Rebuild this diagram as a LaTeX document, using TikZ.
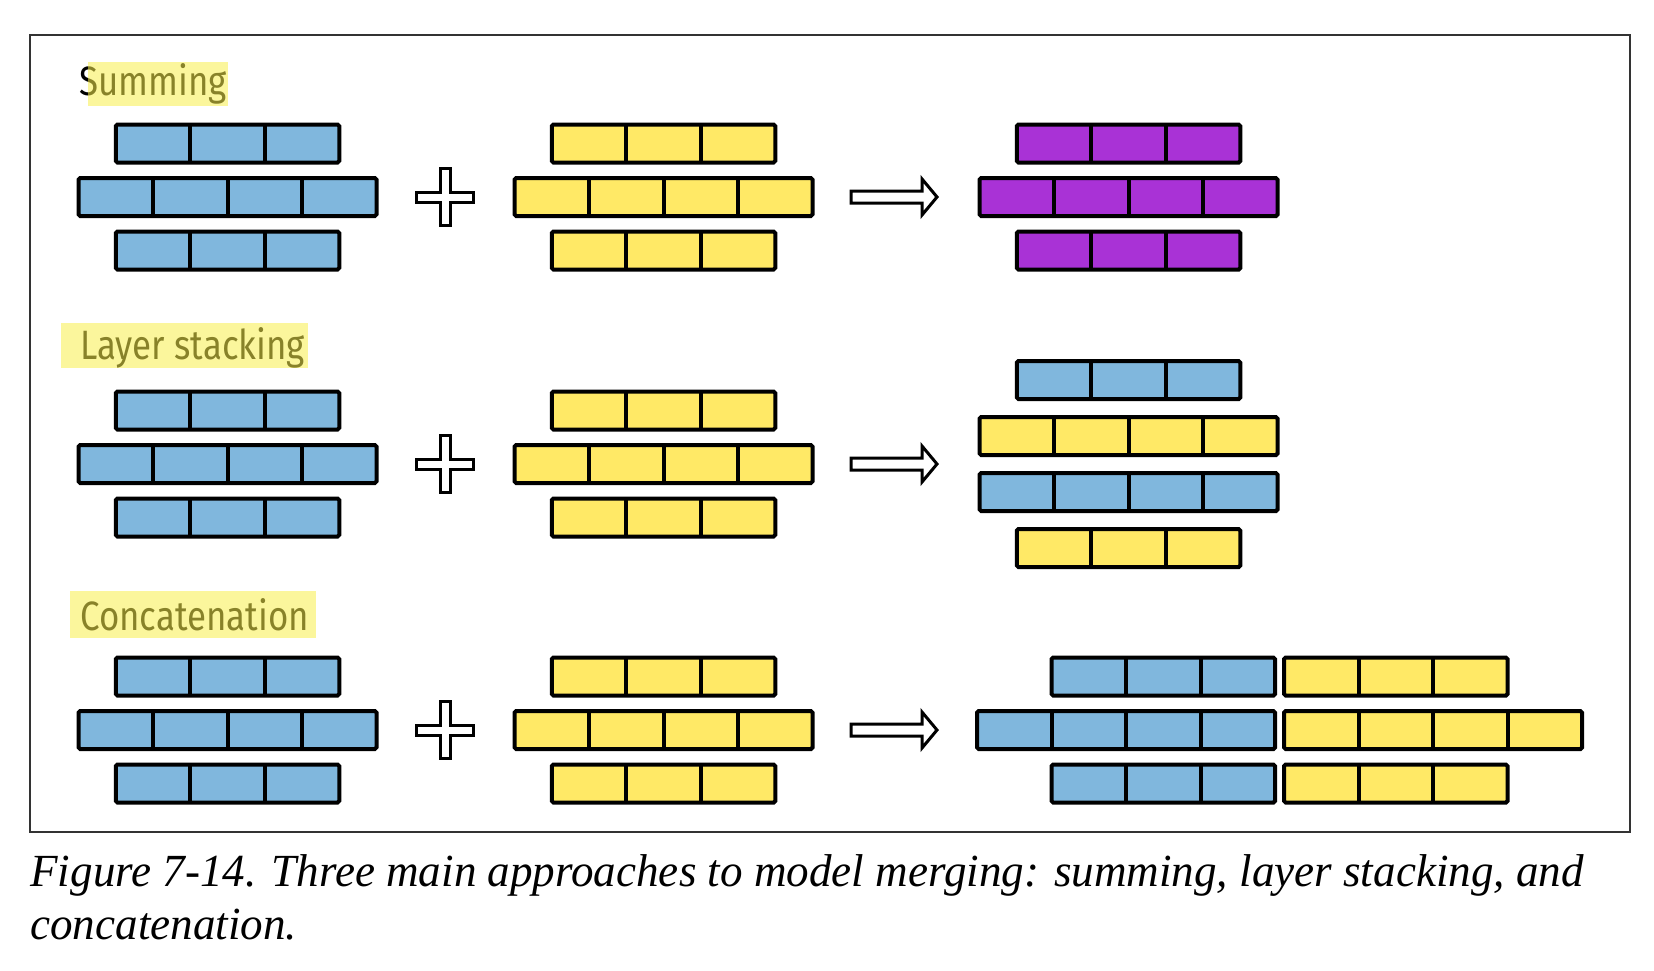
\documentclass[tikz,border=0pt]{standalone}
\usepackage{fontspec}
\setmainfont{Liberation Serif}
\newfontfamily\labelfont[FakeStretch=0.85]{Fira Sans}
\newfontfamily\captionfont[FakeStretch=0.98]{Liberation Serif}
\usetikzlibrary{positioning}
\definecolor{brickblue}{HTML}{80B7DD}
\definecolor{brickyellow}{HTML}{FFE966}
\definecolor{brickpurple}{HTML}{A932D6}
\definecolor{markeryellow}{RGB}{248,238,75}
\definecolor{framegray}{HTML}{333333}

% brick cell size
\newcommand{\cw}{37.25pt}
\newcommand{\ch}{19pt}

% one row of n bricks
\newcommand{\brickrow}[5][center]{%
  \node[brick, anchor=#1, fill=#5, minimum width=#4*\cw] (#2) at (#3) {};
  \pgfmathtruncatemacro{\lastk}{#4-1}
  \foreach \k in {1,...,\lastk}
    \draw[brick] ([xshift=\k*\cw]#2.north west) -- ([xshift=\k*\cw]#2.south west);
}

% three rows (3,4,3) round the middle row
\newcommand{\brickstack}[4]{%
  \brickrow{#1top}{#2,#3-53.5}{3}{#4}
  \brickrow{#1mid}{#2,#3}{4}{#4}
  \brickrow{#1bot}{#2,#3+53.5}{3}{#4}
}

\newcommand{\plussign}[1]{%
  \draw[sign, shift={(#1)}] (-5,-28.5) -- (5,-28.5) -- (5,-5) -- (28.5,-5) -- (28.5,5) -- (5,5)
    -- (5,28.5) -- (-5,28.5) -- (-5,5) -- (-28.5,5) -- (-28.5,-5) -- (-5,-5) -- cycle;
}
\newcommand{\arrowsign}[1]{%
  \draw[sign, shift={(#1)}] (-44,-6) -- (27,-6) -- (27,-18) -- (42,0) -- (27,18) -- (27,6) -- (-44,6) -- cycle;
}

\begin{document}
\begin{tikzpicture}[
  x=0.5pt, y=-0.5pt,
  brick/.style={rectangle, draw=black, line width=2pt, rounded corners=0.8pt, outer sep=0pt, inner sep=0pt, minimum height=\ch},
  sign/.style={draw=black, fill=white, line width=1.5pt, line join=miter},
  hilite/.style={fill=markeryellow, opacity=0.55},
  heading/.style={font=\labelfont\fontsize{20.5}{24}\selectfont, inner sep=0pt, anchor=base west},
  caption/.style={font=\captionfont\itshape\fontsize{23}{26.5}\selectfont, inner sep=0pt, anchor=base west},
]
\useasboundingbox (0,0) rectangle (1654,970);

% frame
\draw[framegray, line width=0.75pt] (30,35) rectangle (1630,832);

% Summing
\node[heading] (sumlabel) at (79,95) {Summing};
\fill[hilite] (88,62) rectangle (228,106);
\brickstack{sumA}{227.5}{197}{brickblue}
\coordinate (sumplus) at (445,197);
\plussign{sumplus}
\brickstack{sumB}{663.5}{197}{brickyellow}
\coordinate (sumarrow) at (895,197);
\arrowsign{sumarrow}
\brickstack{sumC}{1128.5}{197}{brickpurple}

% Layer stacking
\node[heading] (stacklabel) at (80,359) {Layer stacking};
\fill[hilite] (61,323) rectangle (308,368);
\brickstack{stackA}{227.5}{464}{brickblue}
\coordinate (stackplus) at (445,464);
\plussign{stackplus}
\brickstack{stackB}{663.5}{464}{brickyellow}
\coordinate (stackarrow) at (895,464);
\arrowsign{stackarrow}
\brickrow{stackC1}{1128.5,380}{3}{brickblue}
\brickrow{stackC2}{1128.5,436}{4}{brickyellow}
\brickrow{stackC3}{1128.5,492}{4}{brickblue}
\brickrow{stackC4}{1128.5,548}{3}{brickyellow}

% Concatenation
\node[heading] (catlabel) at (80,630) {Concatenation};
\fill[hilite] (70,591) rectangle (316,638);
\brickstack{catA}{227.5}{730}{brickblue}
\coordinate (catplus) at (445,730);
\plussign{catplus}
\brickstack{catB}{663.5}{730}{brickyellow}
\coordinate (catarrow) at (895,730);
\arrowsign{catarrow}
\brickrow[east]{catCtop}{1275,676.5}{3}{brickblue}
\brickrow[east]{catCmid}{1275,730}{4}{brickblue}
\brickrow[east]{catCbot}{1275,783.5}{3}{brickblue}
\brickrow[west]{catDtop}{1284,676.5}{3}{brickyellow}
\brickrow[west]{catDmid}{1284,730}{4}{brickyellow}
\brickrow[west]{catDbot}{1284,783.5}{3}{brickyellow}

% caption
\node[caption] (caption) at (30,886)
  {Figure 7-14. Three main approaches to model merging: summing, layer stacking, and};
\node[caption] (captionend) at ([yshift=-26.5pt]caption.base west) {concatenation.};

\end{tikzpicture}
\end{document}
